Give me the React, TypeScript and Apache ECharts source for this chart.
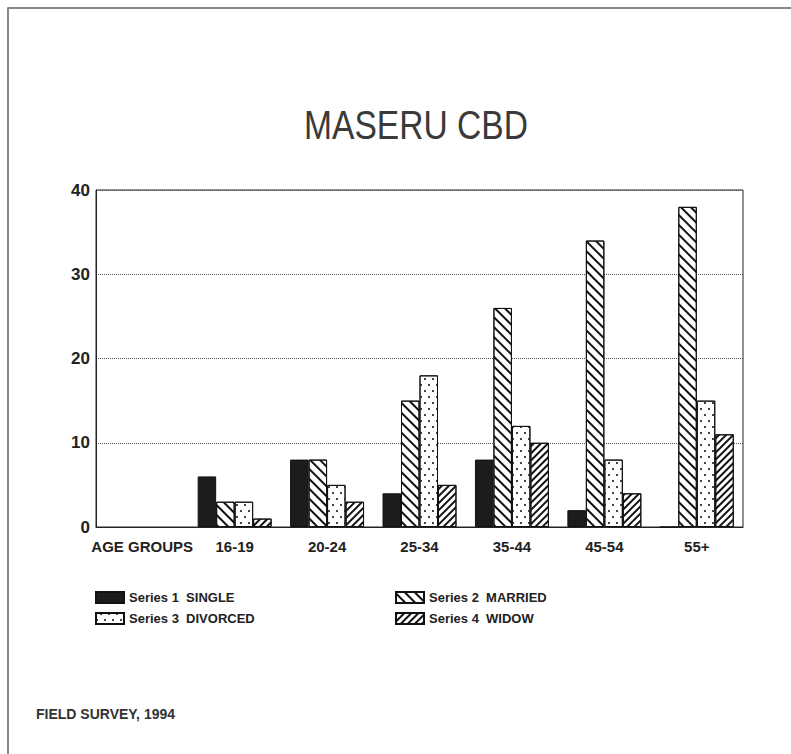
import React, { useEffect, useRef } from "react";
import * as echarts from "echarts";

const categories = ["AGE GROUPS", "16-19", "20-24", "25-34", "35-44", "45-54", "55+"];
const seriesNames = ["Series 1  SINGLE", "Series 2  MARRIED", "Series 3  DIVORCED", "Series 4  WIDOW"];
const single = [null, 6, 8, 4, 8, 2, 0];
const married = [null, 3, 8, 15, 26, 34, 38];
const divorced = [null, 3, 5, 18, 12, 8, 15];
const widow = [null, 1, 3, 5, 10, 4, 11];
const yTicks = [0, 10, 20, 30, 40];
const titleText = "MASERU CBD";
const footerText = "FIELD SURVEY, 1994";

const FONT = "'Liberation Sans', Arial, sans-serif";

export default function App() {
  const ref = useRef<HTMLDivElement>(null);
  useEffect(() => {
    if (!ref.current) return;
    const chart = echarts.init(ref.current, undefined, { renderer: "svg" });
    const border = { borderColor: "#111", borderWidth: 1 };
    const styles = [
      { color: "#1c1c1c", ...border },
      {
        color: "#fff",
        ...border,
        decal: {
          symbol: "rect",
          color: "#111",
          backgroundColor: "#fff",
          dashArrayX: [1, 0],
          dashArrayY: [2, 5],
          rotation: Math.PI / 4,
        },
      },
      {
        color: "#fff",
        ...border,
        decal: {
          symbol: "rect",
          color: "#444",
          backgroundColor: "#fff",
          dashArrayX: [[2, 6], [0, 4, 2, 2]],
          dashArrayY: [2, 4],
          rotation: 0,
        },
      },
      {
        color: "#fff",
        ...border,
        decal: {
          symbol: "rect",
          color: "#111",
          backgroundColor: "#fff",
          dashArrayX: [1, 0],
          dashArrayY: [2, 3],
          rotation: -Math.PI / 4,
        },
      },
    ];
    const dataSets = [single, married, divorced, widow];
    const legendPos = [
      { left: 95, top: 591 },
      { left: 395, top: 591 },
      { left: 95, top: 612 },
      { left: 395, top: 612 },
    ];
    chart.setOption({
      animation: false,
      backgroundColor: "#fff",
      grid: {
        left: 96,
        top: 190,
        right: 48,
        bottom: 227,
        show: true,
        borderColor: "#222",
        borderWidth: 1,
        backgroundColor: "transparent",
      },
      legend: legendPos.map((p, i) => ({
        data: [seriesNames[i]],
        left: p.left,
        top: p.top,
        icon: "rect",
        itemWidth: 28,
        itemHeight: 11,
        padding: 0,
        textStyle: { fontFamily: FONT, fontWeight: "bold", fontSize: 13, color: "#222" },
        selectedMode: false,
      })),
      xAxis: {
        type: "category",
        data: categories,
        axisLine: { lineStyle: { color: "#222", width: 1 } },
        axisTick: { show: false },
        axisLabel: {
          interval: 0,
          fontFamily: FONT,
          fontWeight: "bold",
          fontSize: 15,
          color: "#222",
          margin: 12,
        },
      },
      yAxis: {
        type: "value",
        min: yTicks[0],
        max: yTicks[yTicks.length - 1],
        interval: 10,
        axisLine: { show: true, lineStyle: { color: "#222", width: 1 } },
        axisTick: { show: false },
        axisLabel: {
          fontFamily: FONT,
          fontWeight: "bold",
          fontSize: 17,
          color: "#222",
          margin: 6,
        },
        splitLine: { lineStyle: { type: "dotted", color: "#555", width: 1 } },
      },
      series: dataSets.map((d, i) => ({
        name: seriesNames[i],
        type: "bar",
        data: d,
        barGap: "0%",
        barCategoryGap: "20%",
        itemStyle: styles[i],
      })),
      graphic: [
        {
          type: "line",
          shape: { x1: 7.5, y1: 8, x2: 791, y2: 8 },
          style: { stroke: "#888", lineWidth: 2 },
        },
        {
          type: "line",
          shape: { x1: 8, y1: 7.5, x2: 8, y2: 754 },
          style: { stroke: "#888", lineWidth: 2 },
        },
        {
          type: "text",
          x: 416,
          y: 125,
          scaleX: 0.84,
          style: {
            text: titleText,
            font: `40px ${FONT}`,
            fill: "#3a3a3a",
            textAlign: "center",
            textVerticalAlign: "middle",
          },
        },
        {
          type: "text",
          x: 36,
          y: 714,
          style: {
            text: footerText,
            font: `bold 14px ${FONT}`,
            fill: "#333",
            textAlign: "left",
            textVerticalAlign: "middle",
          },
        },
      ],
    });
    return () => chart.dispose();
  }, []);
  return (
    <div
      ref={ref}
      style={{ position: "fixed", left: 0, top: 0, width: 791, height: 754 }}
    />
  );
}
